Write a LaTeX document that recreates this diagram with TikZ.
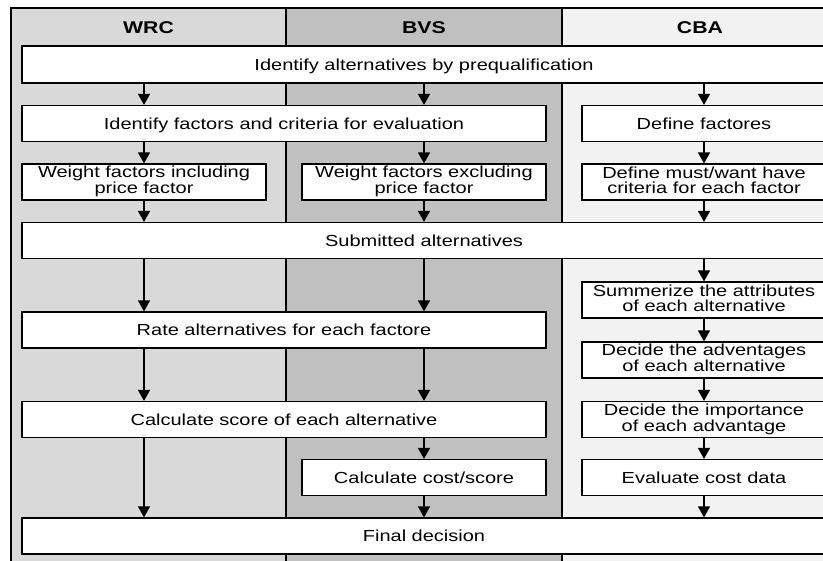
\documentclass[tikz,border=0pt]{standalone}
\usepackage{fontspec}
\setmainfont{Liberation Sans}[FakeStretch=1.25]
\usetikzlibrary{arrows.meta}
\definecolor{colW}{RGB}{217,217,217}
\definecolor{colB}{RGB}{192,192,192}
\definecolor{colC}{RGB}{242,242,242}
\newcommand\bxstrut{\rule[-4pt]{0pt}{19.4pt}}
\begin{document}
\begin{tikzpicture}[x=1pt,y=-1pt,
  box/.style={draw=black, fill=white, line width=1.2pt, inner sep=0pt, align=center,
    minimum height=36pt, font=\fontsize{16}{14.5}\selectfont,
    execute at begin node=\bxstrut, execute at end node=\bxstrut},
  colbox/.style={draw=black, line width=1.2pt},
  head/.style={font=\fontsize{17}{17}\selectfont\bfseries},
  arr/.style={line width=1.3pt, -{Triangle[length=11pt,width=12pt]}}]
\useasboundingbox (0,0) rectangle (823,561);
\begin{scope}
\clip (0,0) rectangle (823,561);
\filldraw[colbox, fill=colW] (11,8) rectangle (286,600);
\filldraw[colbox, fill=colB] (286,8) rectangle (562,600);
\filldraw[colbox, fill=colC] (562,8) rectangle (837,600);
\node[head] (hW) at (148.5,27.5) {WRC};
\node[head] (hB) at (424,27.5) {BVS};
\node[head] (hC) at (700,27.5) {CBA};
\coordinate (xW) at (144,0);
\coordinate (xB) at (424,0);
\coordinate (xC) at (704,0);
% boxes
\node[box, minimum width=804pt, minimum height=37pt] (b1) at (424,64.5) {Identify alternatives by prequalification};
\node[box, minimum width=524pt] (b2) at (284,123.5) {Identify factors and criteria for evaluation};
\node[box, minimum width=244pt] (c2) at (704,123.5) {Define factores};
\node[box, minimum width=244pt] (w3) at (144,182) {Weight factors including\\price factor};
\node[box, minimum width=244pt] (v3) at (424,182) {Weight factors excluding\\price factor};
\node[box, minimum width=244pt] (c3) at (704,182) {Define must/want have\\criteria for each factor};
\node[box, minimum width=804pt] (sub) at (424,240.5) {Submitted alternatives};
\node[box, minimum width=244pt] (c5) at (704,300) {Summerize the attributes\\of each alternative};
\node[box, minimum width=524pt] (rate) at (284,330) {Rate alternatives for each factore};
\node[box, minimum width=244pt] (c6) at (704,360) {Decide the adventages\\of each alternative};
\node[box, minimum width=524pt] (calc) at (284,419.5) {Calculate score of each alternative};
\node[box, minimum width=244pt] (c7) at (704,419.5) {Decide the importance\\of each advantage};
\node[box, minimum width=244pt] (cost) at (424,477.5) {Calculate cost/score};
\node[box, minimum width=244pt] (c8) at (704,477.5) {Evaluate cost data};
\node[box, minimum width=804pt] (fin) at (424,536) {Final decision};
\end{scope}
% WRC arrows
\draw[arr] (b1.south -| xW) -- (b2.north -| xW);
\draw[arr] (b2.south -| xW) -- (w3.north -| xW);
\draw[arr] (w3.south -| xW) -- (sub.north -| xW);
\draw[arr] (sub.south -| xW) -- (rate.north -| xW);
\draw[arr] (rate.south -| xW) -- (calc.north -| xW);
\draw[arr] (calc.south -| xW) -- (fin.north -| xW);
% BVS arrows
\draw[arr] (b1.south -| xB) -- (b2.north -| xB);
\draw[arr] (b2.south -| xB) -- (v3.north -| xB);
\draw[arr] (v3.south -| xB) -- (sub.north -| xB);
\draw[arr] (sub.south -| xB) -- (rate.north -| xB);
\draw[arr] (rate.south -| xB) -- (calc.north -| xB);
\draw[arr] (calc.south -| xB) -- (cost.north -| xB);
\draw[arr] (cost.south -| xB) -- (fin.north -| xB);
% CBA arrows
\draw[arr] (b1.south -| xC) -- (c2.north);
\draw[arr] (c2.south) -- (c3.north);
\draw[arr] (c3.south) -- (sub.north -| xC);
\draw[arr] (sub.south -| xC) -- (c5.north);
\draw[arr] (c5.south) -- (c6.north);
\draw[arr] (c6.south) -- (c7.north);
\draw[arr] (c7.south) -- (c8.north);
\draw[arr] (c8.south) -- (fin.north -| xC);
\end{tikzpicture}
\end{document}
